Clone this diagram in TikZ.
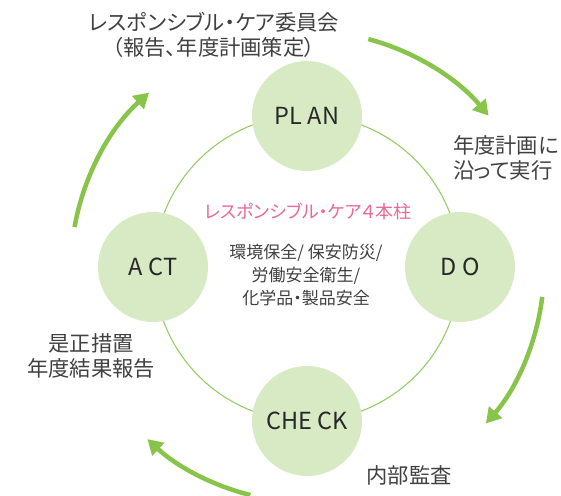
\documentclass[tikz,border=0pt]{standalone}
\usepackage{fontspec}
\setmainfont{Noto Sans CJK JP}
\newfontfamily\jpprop[RawFeature=+palt]{Noto Sans CJK JP}
\usetikzlibrary{arrows.meta}
\definecolor{txtgray}{RGB}{64,64,64}
\definecolor{lbl}{RGB}{40,40,40}
\definecolor{pinkc}{RGB}{234,105,150}
\definecolor{arrowgreen}{RGB}{137,196,74}
\definecolor{nodefill}{RGB}{216,234,196}
\definecolor{ringgreen}{RGB}{150,205,100}
\tikzset{
  phase/.style={circle, fill=nodefill, draw=none, minimum size=110pt, inner sep=0pt,
    text=lbl, font=\fontsize{23.5}{26}\selectfont},
  note/.style={text=txtgray, font=\jpprop\fontsize{21.3}{25}\selectfont, inner sep=0pt},
  cyclearrow/.style={draw=arrowgreen, line width=4.5pt,
    -{Triangle[length=15pt,width=17pt]}},
}
\begin{document}
\begin{tikzpicture}[x=1pt,y=1pt]
\useasboundingbox (0,0) rectangle (561,495);
\coordinate (C) at (307,227);
% ring
\draw[ringgreen, line width=1.1pt] (C) circle[radius=153];
% phases
\node[phase] (plan) at (307,379) {PL AN};
\node[phase] (do) at (460,228) {D O};
\node[phase] (check) at (307,74) {CHE CK};
\node[phase] (act) at (153,228) {A CT};
% outer arrows
\draw[cyclearrow] ([shift={(75:237)}]C) arc[start angle=75, end angle=40, radius=237];
\draw[cyclearrow] ([shift={(-7:237)}]C) arc[start angle=-7, end angle=-41, radius=237];
\draw[cyclearrow] ([shift={(256:234)}]C) arc[start angle=256, end angle=227, radius=234];
\draw[cyclearrow] ([shift={(170:236)}]C) arc[start angle=170, end angle=132, radius=236];
% texts
\node[note, align=center] (committee) at (214,460.5) {レスポンシブル・ケア委員会\\（報告、年度計画策定）};
\node[note, align=left, anchor=east] (doing) at (559,337.5) {年度計画に\\沿って実行};
\node[note, align=center] (correct) at (91,138.5) {是正措置\\年度結果報告};
\node[note] (audit) at (409,20) {内部監査};
\node[text=pinkc, font=\jpprop\fontsize{18}{20}\selectfont, inner sep=0pt] (title) at (308,283) {レスポンシブル・ケア４本柱};
\node[text=txtgray, font=\jpprop\fontsize{17}{23}\selectfont, align=center, inner sep=0pt] (pillars) at (306,220) {環境保全/ 保安防災/\\労働安全衛生/\\化学品・製品安全};
\end{tikzpicture}
\end{document}
